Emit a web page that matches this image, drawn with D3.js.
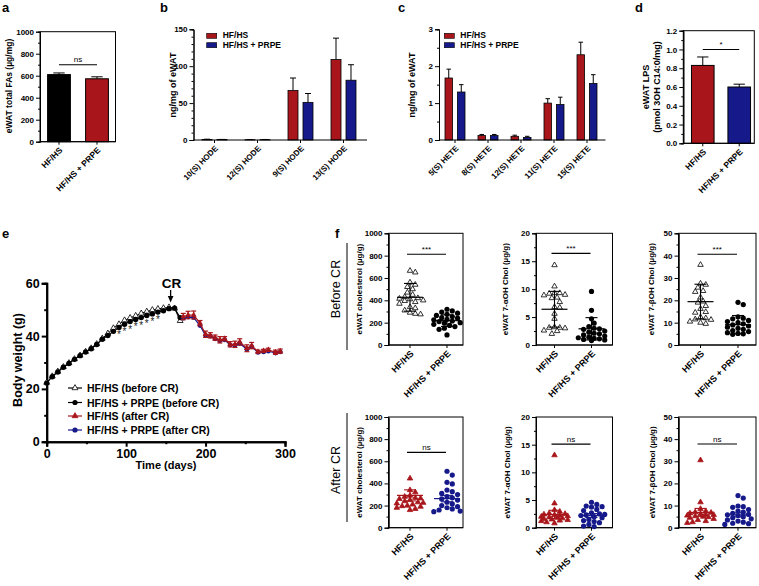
<!DOCTYPE html>
<html><head><meta charset="utf-8">
<script src="https://cdn.jsdelivr.net/npm/d3@7"></script>
<style>body{margin:0;background:#fff}svg{font-family:"Liberation Sans",Arial,sans-serif}</style>
</head><body><svg id="c" width="759" height="586"></svg>
<script>
// ---------------- DATA ----------------
const groups = ["HF/HS", "HF/HS + PRPE"];
// a
const totalFA = [610, 572];
const totalFAErr = [15, 18];
// b
const hodeCats = ["10(S) HODE", "12(S) HODE", "9(S) HODE", "13(S) HODE"];
const hodeHF = [0.8, 0.4, 67, 109];
const hodeHFErr = [0.3, 0.2, 17, 29];
const hodePR = [0.6, 0.5, 51, 81];
const hodePRErr = [0.2, 0.2, 12, 21];
// c
const heteCats = ["5(S) HETE", "8(S) HETE", "12(S) HETE", "11(S) HETE", "15(S) HETE"];
const heteHF = [1.68, 0.12, 0.10, 1.00, 2.31];
const heteHFErr = [0.24, 0.03, 0.03, 0.12, 0.34];
const hetePR = [1.30, 0.12, 0.07, 0.96, 1.53];
const hetePRErr = [0.20, 0.03, 0.03, 0.20, 0.24];
// d
const lps = [0.83, 0.60];
const lpsErr = [0.09, 0.03];
// e
const daysBefore = [0,7,14,21,28,35,42,49,56,63,70,77,84,91,98,105,112,119,126,133,140,147,154,161,168];
const hfBefore = [22.4,24.8,26.6,28.3,29.8,31.3,32.7,34.1,35.4,37.0,39.1,41.0,43.0,44.5,46.0,46.9,47.7,48.6,49.3,49.9,50.3,50.6,50.9,50.5,45.8];
const prpeBefore = [22.2,24.6,26.4,28.2,29.6,31.2,32.6,34.0,35.2,36.8,38.8,40.2,41.8,43.3,44.5,45.5,46.3,47.0,47.8,48.4,49.1,49.6,50.4,50.6,47.0];
const daysAfter = [172,178,185,193,200,206,212,218,224,231,237,243,252,258,266,273,279,288,294];
const hfAfter = [47.4,48.0,48.0,44.9,40.7,40.3,39.4,38.6,39.0,36.9,36.9,37.8,35.4,36.4,34.1,34.4,34.8,33.9,34.3];
const hfAfterErr = [1.2,1.4,1.5,1.0,1.2,1.0,1.0,1.2,0.8,1.0,1.2,1.2,1.3,1.2,0.6,0.6,0.6,0.8,0.8];
const prpeAfter = [46.8,47.2,47.0,44.0,40.2,40.0,39.0,38.2,38.6,36.6,36.5,37.2,35.0,36.0,33.8,34.0,34.3,33.6,34.0];
const sigDays = [91,98,105,112,119,126,133,140];
const crDay = 156;
// f - before CR
const cholBeforeHF = [665,650,560,540,520,500,470,450,430,420,415,410,400,395,385,370,340,330,310,290,280,275];
const cholBeforePR = [320,305,295,285,275,265,255,245,240,230,225,215,210,200,195,185,175,165,150,140,90];
const cholBeforeMean = [427, 218], cholBeforeErr = [124, 52];
const alphaBeforeHF = [14.3,10.5,9.3,9.3,9.2,9.0,8.9,8.5,8.4,7.7,6.8,6.7,5.6,4.7,3.2,3.1,3.1,3.0,2.6,2.5,2.0];
const alphaBeforePR = [9.6,6.2,4.7,3.9,3.3,3.0,2.9,2.8,2.5,2.3,2.1,2.0,1.8,1.6,1.4,1.3,1.2,1.1,1.0,0.9,0.8];
const alphaBeforeMean = [6.4, 2.9], alphaBeforeErr = [3.2, 2.0];
const betaBeforeHF = [35.9,27.5,27.0,25.7,24.2,23.8,21.3,19.5,19.0,17.5,16.2,14.8,14.5,12.5,12.0,11.5,11.3,10.5,10.0,9.5];
const betaBeforePR = [19.1,18.1,12.6,12.0,11.7,11.0,10.5,10.0,9.5,9.0,8.5,8.0,7.5,7.0,6.5,6.0,5.5,5.2,5.0,4.8];
const betaBeforeMean = [19.4, 9.1], betaBeforeErr = [7.8, 4.1];
// f - after CR
const cholAfterHF = [445,340,320,290,280,270,265,260,250,240,230,225,220,210,200,195,190,180,170,160];
const cholAfterPR = [510,475,410,395,340,325,310,300,280,270,260,250,230,215,200,190,180,170,160,150,145];
const cholAfterMean = [292, 263], cholAfterErr = [50, 29];
const alphaAfterHF = [13.1,4.4,3.2,2.9,2.6,2.5,2.4,2.3,2.2,2.1,2.0,1.9,1.8,1.7,1.6,1.5,1.4,1.3,1.2,1.0,0.8];
const alphaAfterPR = [4.6,4.2,3.9,3.8,3.7,3.3,3.1,2.7,2.5,2.4,2.3,2.2,2.0,1.8,1.5,1.3,1.1,0.9,0.6,0.3,0.2];
const alphaAfterMean = [2.4, 2.2], alphaAfterErr = [0.75, 0.35];
const betaAfterHF = [30.5,11.5,8.5,7.5,7.0,6.8,6.5,6.2,6.0,5.8,5.5,5.2,5.0,4.8,4.5,4.0,3.5,3.0,2.5,2.2];
const betaAfterPR = [14.5,13.4,9.8,9.5,9.2,8.2,7.5,7.0,6.5,6.0,5.8,5.5,5.0,4.5,4.0,3.5,3.0,2.5,2.0,1.8,1.5];
const betaAfterMean = [6.9, 5.8], betaAfterErr = [1.8, 0.9];

// ---------------- DRAWING ----------------
const RED = "#a8161b", BLUE = "#16198a", FONT = "Liberation Sans, Arial, sans-serif";
const svg = d3.select("#c");

function label(x, y, s, size, o = {}) {
  const t = svg.append("text").attr("x", x).attr("y", y).text(s)
    .attr("font-size", size).attr("font-weight", o.weight || "bold")
    .attr("text-anchor", o.anchor || "start").attr("fill", o.fill || "#000");
  if (o.rotate != null) t.attr("transform", `rotate(${o.rotate},${x},${y})`);
  if (o.dy) t.attr("dy", o.dy);
  return t;
}
function styleAxis(a, fs) {
  a.attr("font-family", FONT).attr("font-size", fs).attr("font-weight", "bold");
  a.selectAll("path,line").attr("stroke", "#000");
  return a;
}
function yAxis(y, x, major, minor, fmt, fs, sw = 1, tl = 4) {
  if (minor) styleAxis(svg.append("g").attr("transform", `translate(${x},0)`)
    .call(d3.axisLeft(y).tickValues(minor).tickSize(tl / 2).tickFormat("")), fs)
    .selectAll("path,line").attr("stroke-width", sw);
  const a = styleAxis(svg.append("g").attr("transform", `translate(${x},0)`)
    .call(d3.axisLeft(y).tickValues(major).tickSize(tl).tickPadding(2).tickFormat(fmt)), fs);
  a.selectAll("path,line").attr("stroke-width", sw);
  return a;
}
function xBase(x0, x1, yb, centers, labels, fs, sw = 1) {
  svg.append("line").attr("x1", x0).attr("x2", x1).attr("y1", yb).attr("y2", yb).attr("stroke", "#000").attr("stroke-width", sw);
  centers.forEach((cx, i) => {
    svg.append("line").attr("x1", cx).attr("x2", cx).attr("y1", yb).attr("y2", yb + 3).attr("stroke", "#000");
    label(cx + 2, yb + 7, labels[i], fs, { anchor: "end", rotate: -45, dy: "0.35em" });
  });
}
function frame(x0, x1, y0, y1) {
  svg.append("rect").attr("x", x0).attr("y", y0).attr("width", x1 - x0).attr("height", y1 - y0)
    .attr("fill", "none").attr("stroke", "#000").attr("stroke-width", 1);
}
function errUp(cx, yv, ye, w, color = "#000") {
  svg.append("line").attr("x1", cx).attr("x2", cx).attr("y1", yv).attr("y2", ye).attr("stroke", color);
  svg.append("line").attr("x1", cx - w / 2).attr("x2", cx + w / 2).attr("y1", ye).attr("y2", ye).attr("stroke", color);
}
function sig(x0, x1, yy, s, fs = 8) {
  svg.append("line").attr("x1", x0).attr("x2", x1).attr("y1", yy).attr("y2", yy).attr("stroke", "#000").attr("stroke-width", 1.1);
  label((x0 + x1) / 2, yy - 2.5, s, fs, { anchor: "middle", weight: "normal" });
}

// panel letters
label(2, 12, "a", 13); label(160, 12, "b", 13); label(398, 12, "c", 13); label(635, 12, "d", 13);
label(2, 238, "e", 13); label(335, 238, "f", 13);

// ---- panel a ----
{
  const y = d3.scaleLinear([0, 1000], [141.7, 31.7]);
  const x = d3.scaleBand(groups, [40, 116]).paddingInner(0.4).paddingOuter(0.2);
  frame(40, 115.5, 31.7, 141.7);
  const cols = ["#000", RED];
  groups.forEach((g, i) => {
    const cx = x(g) + x.bandwidth() / 2;
    errUp(cx, y(totalFA[i]), y(totalFA[i] + totalFAErr[i]), x.bandwidth() * 0.5);
    svg.append("rect").attr("x", x(g)).attr("width", x.bandwidth()).attr("y", y(totalFA[i]))
      .attr("height", y(0) - y(totalFA[i])).attr("fill", cols[i]).attr("stroke", "#000");
  });
  yAxis(y, 40, d3.range(0, 1001, 200), d3.range(100, 1000, 200), d3.format("d"), 8);
  xBase(40, 115.5, 141.7, groups.map(g => x(g) + x.bandwidth() / 2), groups, 8.5);
  sig(x(groups[0]) + x.bandwidth() / 2, x(groups[1]) + x.bandwidth() / 2, y(700), "ns");
  label(12, 86, "eWAT total FAs (µg/mg)", 8.5, { anchor: "middle", rotate: -90 });
}

// ---- grouped bar panels b / c ----
function grouped(cats, hf, hfE, pr, prE, yMax, major, minor, fmt, x0, x1, sub, subPad, ylx, legx) {
  const y = d3.scaleLinear([0, yMax], [140, 29.3]);
  const x = d3.scaleBand(cats, [x0, x1]);
  const x1s = d3.scaleBand(groups, sub).paddingInner(subPad);
  cats.forEach((c, i) => {
    [[hf, hfE, RED], [pr, prE, BLUE]].forEach(([v, e, col], j) => {
      const bx = x(c) + x1s(groups[j]), bw = x1s.bandwidth();
      errUp(bx + bw / 2, y(v[i]), y(v[i] + e[i]), bw * 0.6);
      svg.append("rect").attr("x", bx).attr("width", bw).attr("y", y(v[i]))
        .attr("height", y(0) - y(v[i])).attr("fill", col).attr("stroke", "#000").attr("stroke-width", 0.8);
    });
  });
  yAxis(y, x0 + 0.5, major, minor, fmt, 8);
  xBase(x0 + 0.5, x1 + 2, 140, cats.map(c => x(c) + x.bandwidth() / 2), cats, 8);
  label(ylx, 85, "ng/mg of eWAT", 9, { anchor: "middle", rotate: -90 });
  [[RED, 33.3, "HF/HS"], [BLUE, 42.7, "HF/HS + PRPE"]].forEach(([col, yy, s]) => {
    svg.append("rect").attr("x", legx).attr("y", yy).attr("width", 10).attr("height", 5).attr("fill", col).attr("stroke", "#000").attr("stroke-width", 0.6);
    label(legx + 16, yy + 5, s, 8.5);
  });
}
grouped(hodeCats, hodeHF, hodeHFErr, hodePR, hodePRErr, 150, [0, 50, 100, 150], d3.range(10, 150, 10).filter(v => v % 50), d3.format("d"),
  193, 365, [9, 34], 0.333, 176, 206.7);
grouped(heteCats, heteHF, heteHFErr, hetePR, hetePRErr, 3, [0, 1, 2, 3], [0.5, 1.5, 2.5], d3.format("d"),
  438.5, 603.5, [6.5, 26.5], 0.4, 415, 444.3);

// ---- panel d ----
{
  const y = d3.scaleLinear([0, 1.2], [143.3, 30.7]);
  const x = d3.scaleBand(groups, [686, 756]).paddingInner(0.38).paddingOuter(0.15);
  frame(683.3, 754.3, 30.7, 143.3);
  const cols = [RED, BLUE];
  groups.forEach((g, i) => {
    const cx = x(g) + x.bandwidth() / 2;
    errUp(cx, y(lps[i]), y(lps[i] + lpsErr[i]), x.bandwidth() * 0.5);
    svg.append("rect").attr("x", x(g)).attr("width", x.bandwidth()).attr("y", y(lps[i]))
      .attr("height", y(0) - y(lps[i])).attr("fill", cols[i]).attr("stroke", "#000");
  });
  yAxis(y, 683.3, d3.range(0, 1.21, 0.2), d3.range(0.1, 1.2, 0.2), d3.format(".1f"), 8);
  xBase(683.3, 754.3, 143.3, groups.map(g => x(g) + x.bandwidth() / 2), groups, 8.5);
  sig(x(groups[0]) + x.bandwidth() / 2, x(groups[1]) + x.bandwidth() / 2, y(1.0), "*");
  label(649, 87, "eWAT LPS", 9, { anchor: "middle", rotate: -90 });
  label(660, 87, "(pmol 3OH C14:0/mg)", 9, { anchor: "middle", rotate: -90 });
}

// ---- panel e ----
{
  const x = d3.scaleLinear([0, 300], [46.7, 285]);
  const y = d3.scaleLinear([0, 60], [441.7, 283.3]);
  const ya = yAxis(y, 46.7, [0, 20, 40, 60], [10, 30, 50], d3.format("d"), 12.5, 2, 5);
  ya.selectAll("text").attr("x", -7);
  styleAxis(svg.append("g").attr("transform", "translate(0,441.7)")
    .call(d3.axisBottom(x).tickValues([50, 150, 250]).tickSize(2.5).tickFormat("")), 12).selectAll("path,line").attr("stroke-width", 2);
  const xa = styleAxis(svg.append("g").attr("transform", "translate(0,441.7)")
    .call(d3.axisBottom(x).tickValues([0, 100, 200, 300]).tickSize(5).tickPadding(2).tickFormat(d3.format("d"))), 12.5);
  xa.selectAll("path,line").attr("stroke-width", 2);
  label(166, 469, "Time (days)", 11, { anchor: "middle" });
  label(22, 360, "Body weight (g)", 12.5, { anchor: "middle", rotate: -90 });

  const line = d3.line().x(d => x(d[0])).y(d => y(d[1]));
  const tri = d3.symbol(d3.symbolTriangle, 15);
  // before CR
  const bH = daysBefore.map((d, i) => [d, hfBefore[i]]);
  const bP = daysBefore.map((d, i) => [d, prpeBefore[i]]);
  svg.append("path").datum(bH).attr("d", line).attr("fill", "none").attr("stroke", "#000").attr("stroke-width", 1);
  svg.append("path").datum(bP).attr("d", line).attr("fill", "none").attr("stroke", "#000").attr("stroke-width", 1.1);
  bH.forEach(p => svg.append("path").attr("d", tri).attr("transform", `translate(${x(p[0])},${y(p[1])})`)
    .attr("fill", "#fff").attr("stroke", "#000").attr("stroke-width", 0.8));
  bP.forEach(p => svg.append("circle").attr("cx", x(p[0])).attr("cy", y(p[1])).attr("r", 2.7).attr("fill", "#000"));
  // asterisks
  sigDays.forEach(d => {
    const i = daysBefore.indexOf(d);
    label(x(d), y(prpeBefore[i]) + 11, "*", 10, { anchor: "middle", weight: "normal", fill: "#222" });
  });
  // after CR
  const aP = daysAfter.map((d, i) => [d, prpeAfter[i]]);
  const aH = daysAfter.map((d, i) => [d, hfAfter[i]]);
  svg.append("path").datum(aP).attr("d", line).attr("fill", "none").attr("stroke", BLUE).attr("stroke-width", 1.2);
  aP.forEach(p => svg.append("circle").attr("cx", x(p[0])).attr("cy", y(p[1])).attr("r", 2.4).attr("fill", BLUE));
  svg.append("path").datum(aH).attr("d", line).attr("fill", "none").attr("stroke", RED).attr("stroke-width", 1.2);
  aH.forEach((p, i) => {
    const cx = x(p[0]);
    svg.append("line").attr("x1", cx).attr("x2", cx).attr("y1", y(p[1] - hfAfterErr[i])).attr("y2", y(p[1] + hfAfterErr[i])).attr("stroke", RED).attr("stroke-width", 1.2);
    [p[1] - hfAfterErr[i], p[1] + hfAfterErr[i]].forEach(v => svg.append("line").attr("x1", cx - 2.5).attr("x2", cx + 2.5)
      .attr("y1", y(v)).attr("y2", y(v)).attr("stroke", RED).attr("stroke-width", 1.2));
    svg.append("path").attr("d", tri).attr("transform", `translate(${cx},${y(p[1])})`).attr("fill", RED);
  });
  // CR arrow
  const ax = x(crDay);
  svg.append("line").attr("x1", ax).attr("x2", ax).attr("y1", 290).attr("y2", 299).attr("stroke", "#000").attr("stroke-width", 1.3);
  svg.append("path").attr("d", `M${ax - 2.8},${296} L${ax + 2.8},${296} L${ax},${302.5} Z`).attr("fill", "#000");
  label(ax + 1, 288, "CR", 13.5, { anchor: "middle" });
  // legend
  const leg = [
    ["HF/HS (before CR)", "#000", "tri-open"],
    ["HF/HS + PRPE (before CR)", "#000", "circle"],
    ["HF/HS (after CR)", RED, "tri"],
    ["HF/HS + PRPE (after CR)", BLUE, "circle"]];
  const ly = [388, 402.5, 416, 430];
  leg.forEach(([s, col, m], i) => {
    svg.append("line").attr("x1", 68).attr("x2", 82).attr("y1", ly[i]).attr("y2", ly[i]).attr("stroke", col).attr("stroke-width", 1.2);
    if (m === "circle") svg.append("circle").attr("cx", 75).attr("cy", ly[i]).attr("r", 2.6).attr("fill", col);
    else svg.append("path").attr("d", tri).attr("transform", `translate(75,${ly[i]})`)
      .attr("fill", m === "tri" ? col : "#fff").attr("stroke", col).attr("stroke-width", 0.8);
    label(87, ly[i] + 4, s, 10.5);
  });
}

// ---- panel f ----
function swarm(vals, y, cx, d, maxOff) {
  const pts = vals.map(v => ({ v, py: y(v) })).sort((a, b) => a.py - b.py);
  const placed = [];
  const step = d * 0.55;
  const cands = [0];
  for (let k = 1; k * step <= maxOff; k++) cands.push(k * step, -k * step);
  pts.forEach(p => {
    let best = null, bestD = -1;
    for (const o of cands) {
      const md = placed.length ? d3.min(placed, q => Math.hypot(q.px - (cx + o), q.py - p.py)) : Infinity;
      if (md >= d) { best = o; break; }
      if (md > bestD) { bestD = md; best = o; }
    }
    p.px = cx + best;
    placed.push(p);
  });
  return placed;
}
function dotPanel(o) {
  const y = d3.scaleLinear([0, o.max], [o.yb, o.yt]);
  const x = d3.scalePoint(groups, o.cx);
  frame(o.x0, o.x1, o.yt, o.yb);
  yAxis(y, o.x0, d3.range(0, o.max + 1e-9, o.major), d3.range(o.major / 2, o.max, o.major), d3.format("d"), 8);
  xBase(o.x0, o.x1, o.yb, groups.map(g => x(g)), groups, 9);
  const tri = d3.symbol(d3.symbolTriangle, 13);
  [[o.hf, 0], [o.pr, 1]].forEach(([vals, j]) => {
    const cx = x(groups[j]);
    swarm(vals, y, cx, 4.8, 15).forEach(p => {
      if (j === 0) svg.append("path").attr("d", tri).attr("transform", `translate(${p.px},${p.py})`)
        .attr("fill", o.after ? RED : "#fff").attr("stroke", o.after ? RED : "#000").attr("stroke-width", 0.8);
      else svg.append("circle").attr("cx", p.px).attr("cy", p.py).attr("r", 2.6).attr("fill", o.after ? BLUE : "#000");
    });
    const col = o.after ? (j ? BLUE : RED) : "#000";
    const m = o.mean[j], e = o.err[j];
    svg.append("line").attr("x1", cx - 13).attr("x2", cx + 13).attr("y1", y(m)).attr("y2", y(m)).attr("stroke", col).attr("stroke-width", 1.2);
    svg.append("line").attr("x1", cx).attr("x2", cx).attr("y1", y(m - e)).attr("y2", y(m + e)).attr("stroke", col).attr("stroke-width", 1.1);
    [m - e, m + e].forEach(v => svg.append("line").attr("x1", cx - 6).attr("x2", cx + 6).attr("y1", y(v)).attr("y2", y(v)).attr("stroke", col).attr("stroke-width", 1.1));
  });
  sig(x(groups[0]) - 3, x(groups[1]) - 1, y(o.sigAt), o.sig);
  label(o.lx, (o.yt + o.yb) / 2, o.ylab, 8, { anchor: "middle", rotate: -90 });
}
const rowTop = { yt: 233.3, yb: 345 }, rowBot = { yt: 417, yb: 527.7 };
const cols3 = [
  { x0: 388.5, x1: 463, cx: [410, 447] },
  { x0: 536, x1: 612.5, cx: [554.5, 591.5] },
  { x0: 678.5, x1: 756, cx: [700.5, 738] }];
dotPanel({ ...rowTop, ...cols3[0], max: 1000, major: 200, hf: cholBeforeHF, pr: cholBeforePR, mean: cholBeforeMean, err: cholBeforeErr, sig: "***", sigAt: 812, lx: 362, ylab: "eWAT cholesterol (µg/g)" });
dotPanel({ ...rowTop, ...cols3[1], max: 20, major: 5, hf: alphaBeforeHF, pr: alphaBeforePR, mean: alphaBeforeMean, err: alphaBeforeErr, sig: "***", sigAt: 16.4, lx: 508, ylab: "eWAT 7-αOH Chol (µg/g)" });
dotPanel({ ...rowTop, ...cols3[2], max: 50, major: 10, hf: betaBeforeHF, pr: betaBeforePR, mean: betaBeforeMean, err: betaBeforeErr, sig: "***", sigAt: 40.6, lx: 654, ylab: "eWAT 7-βOH Chol (µg/g)" });
dotPanel({ ...rowBot, ...cols3[0], max: 1000, major: 200, after: true, hf: cholAfterHF, pr: cholAfterPR, mean: cholAfterMean, err: cholAfterErr, sig: "ns", sigAt: 680, lx: 362, ylab: "eWAT cholesterol (µg/g)" });
dotPanel({ ...rowBot, ...cols3[1], max: 20, major: 5, after: true, hf: alphaAfterHF, pr: alphaAfterPR, mean: alphaAfterMean, err: alphaAfterErr, sig: "ns", sigAt: 15.1, lx: 510, ylab: "eWAT 7-αOH Chol (µg/g)" });
dotPanel({ ...rowBot, ...cols3[2], max: 50, major: 10, after: true, hf: betaAfterHF, pr: betaAfterPR, mean: betaAfterMean, err: betaAfterErr, sig: "ns", sigAt: 37.8, lx: 655, ylab: "eWAT 7-βOH Chol (µg/g)" });
// row labels
label(340, 289, "Before CR", 12.5, { anchor: "middle", rotate: -90, weight: "normal" });
label(340, 470, "After CR", 12.5, { anchor: "middle", rotate: -90, weight: "normal" });
svg.append("line").attr("x1", 347).attr("x2", 347).attr("y1", 243).attr("y2", 350).attr("stroke", "#000");
svg.append("line").attr("x1", 347).attr("x2", 347).attr("y1", 413).attr("y2", 522).attr("stroke", "#000");
</script></body></html>
